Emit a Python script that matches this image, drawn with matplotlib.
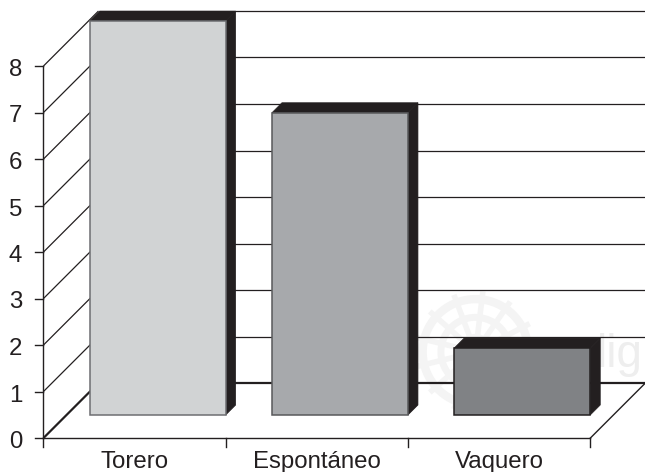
import numpy as np
import matplotlib
matplotlib.use("Agg")
import matplotlib.pyplot as plt
from matplotlib.patches import Polygon

categories = ["Torero", "Espontáneo", "Vaquero"]
values = [8.47, 6.5, 1.44]
bar_colors = ["#d1d3d4", "#a7a9ac", "#808285"]
edge_colors = ["#6d6e71", "#58595b", "#231f20"]
y_ticks = [0, 1, 2, 3, 4, 5, 6, 7, 8]

DARK = "#231f20"
PX_X = 182.3   # pixels per category
PX_Y = 46.5    # pixels per value unit
X0, Y0 = 43.5, 34.0
WIDTH, HEIGHT = 645, 472

# oblique offsets for the back wall, the bar front and the bar depth
wall_dx, wall_dy = 55 / PX_X, 55 / PX_Y
front_dx, front_dy = 23 / PX_X, 23 / PX_Y
depth_dx, depth_dy = 10 / PX_X, 10 / PX_Y
bar_w = 136 / PX_X
gap = (1 - bar_w) / 2

plt.rcParams["font.family"] = ["Liberation Sans", "DejaVu Sans"]
fig = plt.figure(figsize=(6.45, 4.72), dpi=100)
ax = fig.add_axes([0, 0, 1, 1])
ax.set_xlim(-X0 / PX_X, (WIDTH - X0) / PX_X)
ax.set_ylim(-Y0 / PX_Y, (HEIGHT - Y0) / PX_Y)
ax.axis("off")

# faint seal and lettering behind the lines
cx, cy = 2.37, 1.85
y_scale = PX_X / PX_Y
t = np.linspace(0, 2 * np.pi, 100)
for r, lw in [(0.29, 6), (0.19, 5), (0.08, 5)]:
    ax.plot(cx + r * np.cos(t), cy + r * y_scale * np.sin(t), color="#f4f4f4", lw=lw, zorder=0)
for a in np.linspace(0, 2 * np.pi, 14)[:-1]:
    ax.plot([cx, cx + 0.32 * np.cos(a)], [cy, cy + 0.32 * y_scale * np.sin(a)],
            color="#f4f4f4", lw=4, zorder=0)
ax.text(3.16, 1.53, "lig", fontsize=33, color="#eeeeee",
        ha="center", va="baseline", zorder=0)

# wall gridlines
x_end = (WIDTH - X0) / PX_X
for v in y_ticks:
    lw = 1.6 if v == 0 else 0.9
    ax.plot([0, wall_dx], [v, v + wall_dy], color=DARK, lw=lw, zorder=1, solid_capstyle="butt")
    ax.plot([wall_dx, x_end], [v + wall_dy, v + wall_dy], color=DARK, lw=lw, zorder=1,
            solid_capstyle="butt")

# floor and axes
ax.plot([3, 3 + wall_dx], [0, wall_dy], color=DARK, lw=1.0, zorder=1)
ax.plot([0, 3], [0, 0], color=DARK, lw=1.0, zorder=1)
ax.plot([0, 0], [0, 8], color=DARK, lw=1.0, zorder=1)
for v in y_ticks:
    ax.plot([-8.5 / PX_X, 0], [v, v], color=DARK, lw=1.0, zorder=1)
    ax.text(-28 / PX_X, v - 4 / PX_Y, str(v), fontsize=17.3, color=DARK, ha="center", va="center")
for i in range(4):
    ax.plot([i, i], [0, -9 / PX_Y], color=DARK, lw=1.0, zorder=1)

# bars: front face plus dark top and side
for i, (name, val) in enumerate(zip(categories, values)):
    x1 = i + gap + front_dx
    x2 = x1 + bar_w
    y1 = front_dy
    y2 = front_dy + val
    top = [(x1, y2), (x2, y2), (x2 + depth_dx, y2 + depth_dy), (x1 + depth_dx, y2 + depth_dy)]
    side = [(x2, y1), (x2, y2), (x2 + depth_dx, y2 + depth_dy), (x2 + depth_dx, y1 + depth_dy)]
    ax.add_patch(Polygon(top, closed=True, fc=DARK, ec=DARK, lw=0.5, zorder=2))
    ax.add_patch(Polygon(side, closed=True, fc=DARK, ec=DARK, lw=0.5, zorder=2))
    ax.add_patch(Polygon([(x1, y1), (x2, y1), (x2, y2), (x1, y2)], closed=True,
                         fc=bar_colors[i], ec=edge_colors[i], lw=1.1, zorder=3))
    ax.text(i + 0.5, -24 / PX_Y, name, fontsize=17.3, color=DARK, ha="center", va="center")

fig.savefig("out.png", dpi=100)
